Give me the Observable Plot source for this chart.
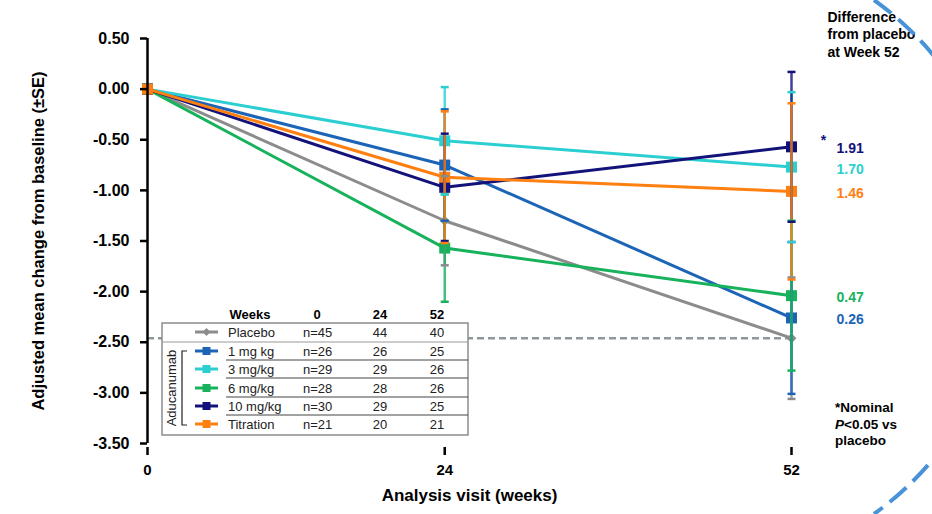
<!DOCTYPE html>
<html>
<head>
<meta charset="utf-8">
<script src="https://cdn.jsdelivr.net/npm/d3@7"></script>
<script src="https://cdn.jsdelivr.net/npm/@observablehq/plot@0.6"></script>
<style>
  html, body { margin: 0; padding: 0; background: #fff; }
  #chart { position: relative; width: 932px; height: 514px; overflow: hidden; }
</style>
</head>
<body>
<div id="chart"></div>
<script>
// Visits (weeks) and treatment groups
const weeks = [0, 24, 52];
const groups = ["Placebo", "1 mg kg", "3 mg/kg", "6 mg/kg", "10 mg/kg", "Titration"];
const colors = ["#8c8c8c", "#1c64b6", "#2ccfd1", "#17b25b", "#12127a", "#ff7f10"];

// Adjusted mean change from baseline at weeks 0, 24, 52
const placeboMean   = [0, -1.30, -2.46];
const mg1Mean       = [0, -0.75, -2.26];
const mg3Mean       = [0, -0.51, -0.77];
const mg6Mean       = [0, -1.57, -2.04];
const mg10Mean      = [0, -0.97, -0.57];
const titrationMean = [0, -0.87, -1.01];

// Standard errors at weeks 0, 24, 52
const placeboSE   = [0, 0.44, 0.60];
const mg1SE       = [0, 0.55, 0.75];
const mg3SE       = [0, 0.53, 0.74];
const mg6SE       = [0, 0.53, 0.74];
const mg10SE      = [0, 0.53, 0.74];
const titrationSE = [0, 0.65, 0.87];

// Difference from placebo at week 52 (active groups)
const diffGroups = ["10 mg/kg", "3 mg/kg", "Titration", "6 mg/kg", "1 mg kg"];
const diffLabels = ["1.91", "1.70", "1.46", "0.47", "0.26"];

// Patients per visit
const nWeek0  = [45, 26, 29, 28, 30, 21];
const nWeek24 = [44, 26, 29, 28, 29, 20];
const nWeek52 = [40, 25, 26, 26, 25, 21];

// Axis ticks
const yTicks = [0.5, 0, -0.5, -1, -1.5, -2, -2.5, -3, -3.5];
const xTicks = [0, 24, 52];

const means = [placeboMean, mg1Mean, mg3Mean, mg6Mean, mg10Mean, titrationMean];
const ses = [placeboSE, mg1SE, mg3SE, mg6SE, mg10SE, titrationSE];

const rows = [];
groups.forEach((g, i) => weeks.forEach((w, j) => rows.push({group: g, week: w, mean: means[i][j], se: ses[i][j]})));

// stacking order of the error bars
const barOrder = ["Placebo", "1 mg kg", "3 mg/kg", "10 mg/kg", "6 mg/kg", "Titration"];
const bars = rows.filter(d => d.week > 0).sort((a, b) => barOrder.indexOf(a.group) - barOrder.indexOf(b.group));

const wk52 = g => rows.find(d => d.group === g && d.week === 52).mean;
const diffRows = diffGroups.map((g, i) => ({group: g, y: wk52(g), text: diffLabels[i]}));

const capSymbol = {draw(ctx) { ctx.moveTo(-4, 0); ctx.lineTo(4, 0); }};
const FONT = "'Liberation Sans', Arial, Helvetica, sans-serif";

const plot = Plot.plot({
  width: 932,
  height: 514,
  marginLeft: 147,
  marginRight: 141,
  marginTop: 38,
  marginBottom: 71,
  style: {fontFamily: FONT, background: "white", overflow: "visible"},
  x: {domain: [0, 52]},
  y: {domain: [-3.5, 0.5]},
  color: {domain: groups, range: colors},
  marks: [
    // placebo reference at week 52
    Plot.ruleY([wk52("Placebo")], {x1: 0, x2: 52, stroke: "#8e979c", strokeWidth: 2.5, strokeDasharray: "7,4"}),
    Plot.line(rows, {x: "week", y: "mean", stroke: "group", strokeWidth: 3}),
    Plot.dot(rows.filter(d => d.group === "Placebo"), {x: "week", y: "mean", fill: "group", symbol: "diamond2", r: 4.5}),
    Plot.dot(rows.filter(d => d.group !== "Placebo"), {x: "week", y: "mean", fill: "group", symbol: "square", r: 6.2}),
    // error bars
    Plot.ruleX(bars, {x: "week", y1: d => d.mean - d.se, y2: d => d.mean + d.se, stroke: "group", strokeWidth: 2.5, strokeOpacity: 0.8}),
    Plot.dot(bars, {x: "week", y: d => d.mean + d.se, stroke: "group", symbol: capSymbol, strokeWidth: 2.5, r: 4}),
    Plot.dot(bars, {x: "week", y: d => d.mean - d.se, stroke: "group", symbol: capSymbol, strokeWidth: 2.5, r: 4}),
    // axes
    Plot.ruleX([0], {y1: -3.5, y2: 0.5, stroke: "black", strokeWidth: 2.5}),
    Plot.axisY({ticks: yTicks, tickFormat: d => d.toFixed(2), tickSize: 7, tickPadding: 11, strokeWidth: 2.5,
      fontSize: 16, fontWeight: "bold", fill: "black",
      label: "Adjusted mean change from baseline (±SE)", labelAnchor: "center", labelArrow: "none", labelOffset: 115}),
    Plot.axisX({ticks: xTicks, tickSize: 8, tickPadding: 9, dy: 4, strokeWidth: 2.5,
      fontSize: 15, fontWeight: "bold", fill: "black",
      label: "Analysis visit (weeks)", labelAnchor: "center", labelArrow: "none", labelOffset: 57}),
    // differences from placebo
    Plot.text(diffRows, {x: 52, y: "y", text: "text", fill: "group", dx: 45, dy: 2, textAnchor: "start", fontSize: 14, fontWeight: "bold"}),
    Plot.text(["*"], {x: 52, y: wk52("10 mg/kg"), dx: 32, dy: -6, text: d => d, fontSize: 14, fontWeight: "bold", fill: "#12127a"}),
    Plot.text(["Difference\nfrom placebo\nat Week 52"], {frameAnchor: "top-right", text: d => d, dx: 36, dy: -29,
      textAnchor: "start", lineAnchor: "top", lineHeight: 1.25, fontSize: 14, fontWeight: "bold", fill: "black"})
  ]
});

document.getElementById("chart").appendChild(plot);

const svg = d3.select(plot);
svg.selectAll("g[aria-label='y-axis label'] text")
  .attr("font-size", 16.5).attr("font-weight", "bold").attr("fill", "black");
svg.selectAll("g[aria-label='x-axis label'] text")
  .attr("font-size", 17).attr("font-weight", "bold").attr("fill", "black");

// footnote
const foot = svg.append("text").attr("font-family", FONT).attr("font-size", 13.5).attr("font-weight", 600)
  .attr("fill", "black").attr("text-anchor", "start");
foot.append("tspan").attr("x", 835).attr("y", 412).text("*Nominal");
const l2 = foot.append("tspan").attr("x", 835).attr("y", 429);
l2.append("tspan").attr("font-style", "italic").text("P");
l2.append("tspan").text("<0.05 vs");
foot.append("tspan").attr("x", 835).attr("y", 445).text("placebo");

// patient-count table
const tbl = svg.append("g").attr("font-family", FONT).attr("font-size", 13).attr("fill", "#222").attr("text-anchor", "start");
tbl.append("rect").attr("x", 162).attr("y", 323).attr("width", 306).attr("height", 112)
  .attr("fill", "white").attr("stroke", "#8c8c8c").attr("stroke-width", 1.5);
const colX = {label: 228, n0: 303, n24: 380, n52: 437};
const head = tbl.append("g").attr("font-weight", "bold").attr("fill", "black").attr("text-anchor", "middle");
[["Weeks", 250], ["0", 317], ["24", colX.n24], ["52", colX.n52]].forEach(([t, x]) =>
  head.append("text").attr("x", x).attr("y", 319).text(t));
const rowY = [332, 351, 369, 388, 406, 424];
tbl.append("line").attr("x1", 162).attr("x2", 468).attr("y1", 342).attr("y2", 342).attr("stroke", "#999").attr("stroke-width", 1.2);
[360, 378, 397, 415].forEach(y =>
  tbl.append("line").attr("x1", 226).attr("x2", 468).attr("y1", y).attr("y2", y).attr("stroke", "#444").attr("stroke-width", 1));
groups.forEach((g, i) => {
  const y = rowY[i];
  tbl.append("line").attr("x1", 195).attr("x2", 218).attr("y1", y).attr("y2", y).attr("stroke", colors[i]).attr("stroke-width", 3);
  if (i === 0) {
    tbl.append("path").attr("d", d3.symbol(d3.symbolDiamond2, 40)()).attr("transform", `translate(206.5,${y})`).attr("fill", colors[i]);
  } else {
    tbl.append("rect").attr("x", 202.5).attr("y", y - 4).attr("width", 8).attr("height", 8).attr("fill", colors[i]);
  }
  tbl.append("text").attr("x", colX.label).attr("y", y).attr("dy", "0.35em").text(g);
  tbl.append("text").attr("x", colX.n0).attr("y", y).attr("dy", "0.35em").text("n=" + nWeek0[i]);
  tbl.append("text").attr("x", colX.n24).attr("y", y).attr("dy", "0.35em").attr("text-anchor", "middle").text(nWeek24[i]);
  tbl.append("text").attr("x", colX.n52).attr("y", y).attr("dy", "0.35em").attr("text-anchor", "middle").text(nWeek52[i]);
});
tbl.append("path").attr("d", "M187,351H182V425H187").attr("fill", "none").attr("stroke", "#222").attr("stroke-width", 1.2);
tbl.append("text").attr("transform", "translate(171,388) rotate(-90)").attr("text-anchor", "middle").attr("dy", "0.35em").text("Aducanumab");

// slide border arc
svg.append("path").attr("d", "M874,0A316,316 0 0 1 874,514").attr("fill", "none")
  .attr("stroke", "#4a92d8").attr("stroke-width", 4).attr("stroke-dasharray", "22,9");
</script>
</body>
</html>
